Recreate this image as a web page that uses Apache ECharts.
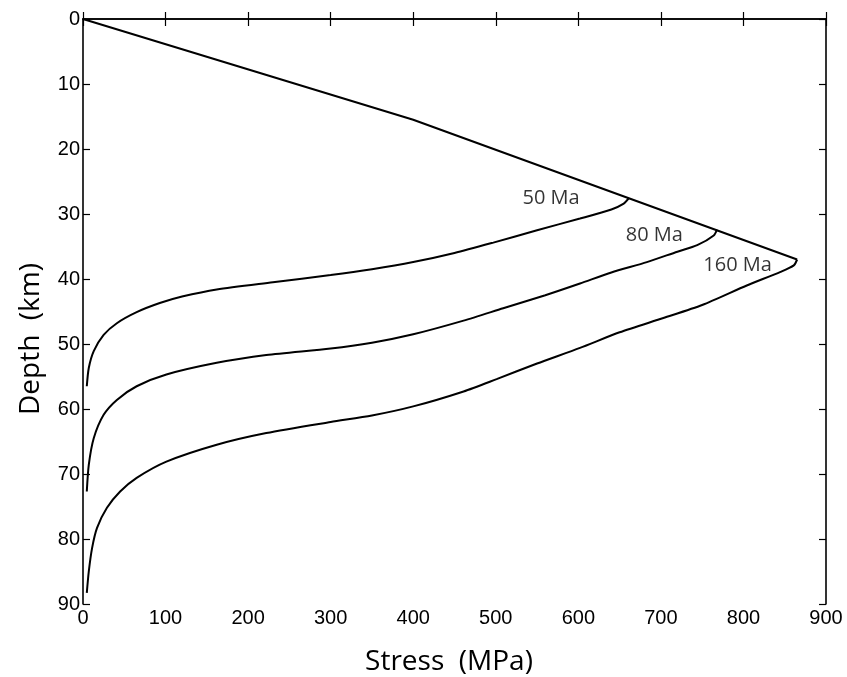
<!DOCTYPE html>
<html>
<head>
<meta charset="utf-8">
<script src="https://cdn.jsdelivr.net/npm/echarts@6/dist/echarts.min.js"></script>
<style>html,body{margin:0;padding:0;background:#fff}#c{width:847px;height:677px}</style>
</head>
<body>
<div id="c"></div>
<script>
// Brittle envelope (stress MPa, depth km)
var brittle = [[0,0],[400,15.5],[865,37.0]];
// Ductile branches for plate ages
var s50 = [[661,27.6],[655,28.4],[640,29.3],[602,30.7],[550,32.5],[497,34.4],[450,36.0],[400,37.4],[350,38.5],[300,39.4],[230,40.5],[162,41.6],[120,42.7],[93,43.7],[65,45.1],[41,46.8],[25,48.6],[13,51.1],[7,53.7],[4.6,56.5]];
var s80 = [[768,32.4],[764,33.3],[744,34.8],[720,35.8],[683,37.4],[640,39.0],[602,40.7],[560,42.5],[509,44.5],[461,46.4],[400,48.5],[350,49.8],[300,50.7],[222,51.7],[162,52.9],[101,54.7],[65,56.5],[41,58.6],[25,60.9],[13,64.5],[7,68.6],[4.6,72.7]];
var s160 = [[865,37.0],[861,37.9],[845,38.9],[804,41.0],[750,44.0],[703,46.0],[650,48.2],[602,50.6],[550,53.0],[501,55.4],[461,57.3],[400,59.6],[350,61.0],[300,62.0],[222,63.7],[162,65.5],[101,68.1],[65,70.6],[45,72.7],[29,75.2],[17,78.3],[11,81.4],[7,85.0],[4.6,88.3]];
var ageLabels = [[567,27.6,'50 Ma'],[692,33.2,'80 Ma'],[793,37.9,'160 Ma']];
var xTitle = 'Stress  (MPa)';
var yTitle = 'Depth  (km)';

var chart = echarts.init(document.getElementById('c'), null, {renderer:'canvas'});
var axisLine = {lineStyle:{color:'#000', width:1.6}};
var tick = {show:true, inside:true, length:7, lineStyle:{color:'#000', width:1.2}};
var lab = {color:'#000', fontFamily:'Liberation Sans', fontSize:20};
function line(d){return {type:'line', data:d, symbol:'none', smooth:0.25, lineStyle:{color:'#000', width:2}, z:3};}
chart.setOption({
  animation:false,
  backgroundColor:'#fff',
  grid:{left:83, right:21, top:19, bottom:73},
  xAxis:[
    {type:'value', position:'bottom', min:0, max:900, interval:100, axisLine:axisLine, axisTick:tick, axisLabel:Object.assign({margin:4}, lab), splitLine:{show:false}},
    {type:'value', position:'top', min:0, max:900, interval:100, axisLine:axisLine, axisTick:tick, axisLabel:{show:false}, splitLine:{show:false}}
  ],
  yAxis:[
    {type:'value', position:'left', inverse:true, min:0, max:90, interval:10, axisLine:Object.assign({onZero:false}, axisLine), axisTick:tick, axisLabel:Object.assign({margin:3}, lab), splitLine:{show:false}},
    {type:'value', position:'right', inverse:true, min:0, max:90, interval:10, axisLine:Object.assign({onZero:false}, axisLine), axisTick:tick, axisLabel:{show:false}, splitLine:{show:false}}
  ],
  series:[
    {type:'line', data:brittle, symbol:'none', lineStyle:{color:'#000', width:2}, z:3},
    line(s50), line(s80), line(s160),
    {type:'scatter', data:ageLabels, symbolSize:0, z:4, silent:true,
     label:{show:true, position:[0,0], align:'center', verticalAlign:'middle', formatter:function(p){return p.data[2];}, color:'#000', textBorderWidth:0, fontFamily:'Open Sans', fontSize:20}}
  ],
  graphic:[
    {type:'text', x:449, y:662, style:{text:xTitle, fontFamily:'Open Sans', fontSize:28, fill:'#000', align:'center', verticalAlign:'middle'}},
    {type:'text', x:31, y:339, rotation:Math.PI/2, style:{text:yTitle, fontFamily:'Open Sans', fontSize:28, fill:'#000', align:'center', verticalAlign:'middle'}}
  ]
});
</script>
</body>
</html>
